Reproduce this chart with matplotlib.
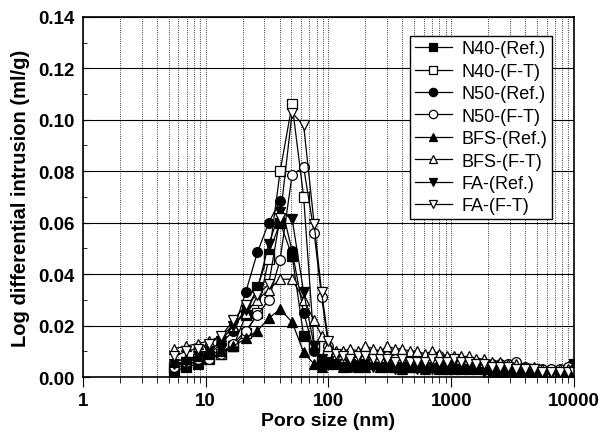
import numpy as np
import matplotlib
matplotlib.use('Agg')
import matplotlib.pyplot as plt
from matplotlib.ticker import LogLocator, MultipleLocator, FixedLocator, NullFormatter

plt.rcParams['font.family'] = ['Liberation Sans', 'DejaVu Sans']

# tamanho de poro (nm)
poro = [5.5, 6.9, 8.6, 10.7, 13.4, 16.8, 21.2, 26.4, 32.6, 40.4, 50.6, 62.8, 76.5, 88,
        100, 115, 132, 150, 175, 200, 230, 265, 300, 350, 400, 460, 530, 610, 700, 800,
        920, 1050, 1200, 1400, 1600, 1850, 2150, 2500, 2900, 3400, 4000, 4700, 5500,
        6500, 7700, 9000, 10000]

n40_ref = [0.002, 0.004, 0.005, 0.007, 0.009, 0.012, 0.024, 0.035, 0.048, 0.060, 0.047, 0.016, 0.012, 0.006,
           0.008, 0.006, 0.006, 0.005, 0.006, 0.005, 0.006, 0.005, 0.005, 0.006, 0.005, 0.004, 0.005, 0.005, 0.004, 0.005,
           0.004, 0.005, 0.004, 0.004, 0.004, 0.004, 0.003, 0.003, 0.003, 0.003, 0.003, 0.002, 0.002,
           0.002, 0.002, 0.002, 0.005]
n40_ft = [0.004, 0.006, 0.007, 0.008, 0.009, 0.012, 0.017, 0.025, 0.046, 0.080, 0.106, 0.070, 0.012, 0.006,
          0.008, 0.007, 0.006, 0.007, 0.006, 0.007, 0.006, 0.006, 0.007, 0.006, 0.006, 0.006, 0.006, 0.005, 0.006, 0.005,
          0.005, 0.006, 0.005, 0.005, 0.005, 0.004, 0.004, 0.004, 0.004, 0.003, 0.003, 0.003, 0.002,
          0.002, 0.002, 0.002, 0.002]
n50_ref = [0.003, 0.005, 0.006, 0.009, 0.013, 0.018, 0.033, 0.0485, 0.060, 0.0685, 0.049, 0.025, 0.010, 0.006,
           0.006, 0.005, 0.005, 0.004, 0.005, 0.004, 0.005, 0.004, 0.004, 0.005, 0.004, 0.004, 0.005, 0.004, 0.004, 0.004,
           0.003, 0.004, 0.004, 0.003, 0.003, 0.003, 0.003, 0.003, 0.002, 0.002, 0.002, 0.002, 0.002,
           0.001, 0.001, 0.001, 0.001]
n50_ft = [0.004, 0.006, 0.007, 0.007, 0.009, 0.013, 0.018, 0.024, 0.030, 0.0456, 0.0786, 0.0816, 0.056, 0.031,
          0.012, 0.008, 0.007, 0.007, 0.008, 0.007, 0.007, 0.007, 0.008, 0.007, 0.007, 0.006, 0.007, 0.007, 0.007, 0.008,
          0.007, 0.007, 0.006, 0.006, 0.006, 0.005, 0.005, 0.005, 0.005, 0.006, 0.004, 0.003, 0.003,
          0.003, 0.003, 0.004, 0.003]
bfs_ref = [0.006, 0.007, 0.008, 0.009, 0.010, 0.012, 0.015, 0.018, 0.0228, 0.0264, 0.0213, 0.0096, 0.005, 0.004,
           0.005, 0.005, 0.004, 0.005, 0.004, 0.004, 0.005, 0.004, 0.004, 0.004, 0.003, 0.004, 0.004, 0.003, 0.004, 0.003,
           0.003, 0.003, 0.003, 0.003, 0.003, 0.003, 0.002, 0.002, 0.002, 0.002, 0.001, 0.001, 0.001,
           0.001, 0.001, 0.001, 0.001]
bfs_ft = [0.011, 0.012, 0.013, 0.014, 0.016, 0.020, 0.025, 0.030, 0.034, 0.038, 0.038, 0.030, 0.022, 0.016,
          0.012, 0.010, 0.010, 0.011, 0.010, 0.012, 0.011, 0.010, 0.012, 0.011, 0.011, 0.010, 0.010, 0.009, 0.010, 0.009,
          0.008, 0.008, 0.008, 0.008, 0.007, 0.007, 0.006, 0.006, 0.005, 0.005, 0.004, 0.004, 0.003,
          0.002, 0.003, 0.003, 0.004]
fa_ref = [0.005, 0.006, 0.008, 0.010, 0.014, 0.020, 0.026, 0.034, 0.0517, 0.0643, 0.0615, 0.033, 0.012, 0.007,
          0.006, 0.005, 0.004, 0.005, 0.004, 0.005, 0.004, 0.004, 0.004, 0.003, 0.004, 0.004, 0.003, 0.004, 0.003, 0.003,
          0.004, 0.003, 0.003, 0.003, 0.003, 0.002, 0.002, 0.002, 0.002, 0.001, 0.001, 0.001, 0.001,
          0.001, 0.001, 0.001, 0.001]
fa_ft = [0.008, 0.010, 0.011, 0.013, 0.016, 0.022, 0.028, 0.032, 0.036, 0.062, 0.1027, 0.0978, 0.0595, 0.033,
         0.014, 0.009, 0.008, 0.007, 0.008, 0.008, 0.007, 0.007, 0.007, 0.006, 0.007, 0.006, 0.006, 0.006, 0.007, 0.006,
         0.006, 0.007, 0.006, 0.006, 0.005, 0.005, 0.004, 0.004, 0.004, 0.003, 0.003, 0.003, 0.002,
         0.002, 0.002, 0.002, 0.002]

series = [
    (n40_ref, 's', 'k', 'N40-(Ref.)'),
    (n40_ft, 's', 'w', 'N40-(F-T)'),
    (n50_ref, 'o', 'k', 'N50-(Ref.)'),
    (n50_ft, 'o', 'w', 'N50-(F-T)'),
    (bfs_ref, '^', 'k', 'BFS-(Ref.)'),
    (bfs_ft, '^', 'w', 'BFS-(F-T)'),
    (fa_ref, 'v', 'k', 'FA-(Ref.)'),
    (fa_ft, 'v', 'w', 'FA-(F-T)'),
]

fig = plt.figure(figsize=(6.01, 4.35), dpi=100)
ax = fig.add_axes([0.138, 0.131, 0.817, 0.828])

for vals, mk, fc, nome in series:
    ax.plot(poro, vals, marker=mk, color='k', markerfacecolor=fc, markeredgecolor='k',
            markersize=7, markeredgewidth=0.9, linewidth=0.9, label=nome)

ax.set_xscale('log')
ax.set_xlim(1, 10000)
ax.set_ylim(0, 0.14)

ax.xaxis.set_major_locator(FixedLocator([1, 10, 100, 1000, 10000]))
ax.set_xticklabels(['1', '10', '100', '1000', '10000'])
ax.xaxis.set_minor_locator(LogLocator(base=10, subs=np.arange(2, 10)))
ax.xaxis.set_minor_formatter(NullFormatter())
ax.yaxis.set_major_locator(MultipleLocator(0.02))
ax.yaxis.set_minor_locator(MultipleLocator(0.01))
ax.yaxis.set_major_formatter(plt.FuncFormatter(lambda v, p: f'{v:.2f}'))

ax.tick_params(axis='x', which='major', direction='out', length=7, pad=4, labelsize=13.5)
ax.tick_params(axis='x', which='minor', direction='out', length=4)
ax.tick_params(axis='y', which='major', direction='in', length=5, pad=6, labelsize=13.5)
ax.tick_params(axis='y', which='minor', direction='in', length=3)
for lab in ax.get_xticklabels() + ax.get_yticklabels():
    lab.set_fontweight('bold')

# grades
ax.grid(True, axis='y', which='major', color='k', linestyle='-', linewidth=0.8)
ax.grid(True, axis='x', which='both', color='k', linestyle=':', linewidth=0.6)

ax.set_xlabel('Poro size (nm)', fontsize=14, fontweight='bold', labelpad=2)
ax.set_ylabel('Log differential intrusion (ml/g)', fontsize=14.5, fontweight='bold', labelpad=6)

for sp in ax.spines.values():
    sp.set_linewidth(1.2)

leg = ax.legend(loc='upper right', bbox_to_anchor=(0.955, 0.947), fontsize=13, frameon=True,
                fancybox=False, edgecolor='k', framealpha=1, handlelength=2.1, handletextpad=0.5,
                borderpad=0.25, labelspacing=0.3, borderaxespad=0)
leg.get_frame().set_linewidth(1.0)
for h in leg.legend_handles:
    h.set_markersize(6)

fig.savefig('out.png', dpi=100)
